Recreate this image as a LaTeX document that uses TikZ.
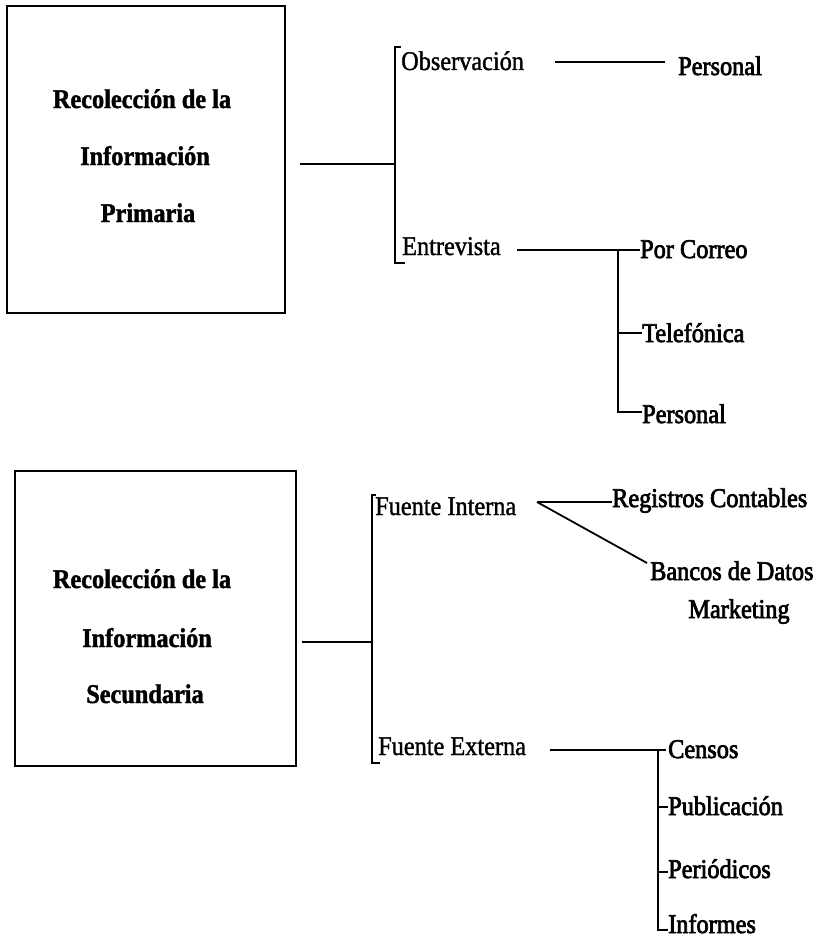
\documentclass[tikz,border=0pt]{standalone}
\usepackage{fontspec}
\setmainfont{Liberation Serif}[FakeStretch=0.9]
\newfontfamily\lightfont{Liberation Serif}[FakeStretch=0.9,FakeBold=1.3]
\newfontfamily\darkfont{Liberation Serif}[FakeStretch=0.9,FakeBold=2.6]
\newfontfamily\titlefont{Liberation Serif}[FakeStretch=0.9,BoldFeatures={FakeBold=1.5}]
\begin{document}
\begin{tikzpicture}[x=1pt,y=-1pt,
  lbl/.style={anchor=base west, inner sep=0pt, font=\lightfont\fontsize{27}{32}\selectfont},
  dlbl/.style={anchor=base west, inner sep=0pt, font=\darkfont\fontsize{27}{32}\selectfont},
  ttl/.style={anchor=base, inner sep=0pt, font=\titlefont\bfseries\fontsize{27}{32}\selectfont},
  frame/.style={draw, line width=1.3pt, inner sep=0pt},
  conn/.style={line width=1.8pt}]
\useasboundingbox (0,0) rectangle (826,942);

% ---------- Primary ----------
\node[frame, minimum width=278pt, minimum height=307pt] (box1) at (146,159.5) {};
\node[ttl] (t1a) at (142,108) {Recolección de la};
\node[ttl] (t1b) at (145,165) {Información};
\node[ttl] (t1c) at (148,222) {Primaria};

\node[lbl]  (obs)  at (401,70)  {Observación};
\node[dlbl] (per1) at (678,75)  {Personal};
\node[lbl]  (ent)  at (402,255) {Entrevista};
\node[dlbl] (pc)   at (640,258) {Por Correo};
\node[dlbl] (tel)  at (642,342) {Telefónica};
\node[dlbl] (per2) at (642,423) {Personal};

\coordinate (s1)  at (300,164);
\coordinate (b1m) at (395,164);
\coordinate (b1t) at (395,47);
\coordinate (b1b) at (395,263);
\coordinate (oL)  at (555,62);
\coordinate (oR)  at (665,62);
\coordinate (eL)  at (517,250);
\coordinate (j2)  at (618,250);
\coordinate (j2t) at (618,333);
\coordinate (j2b) at (618,412);

\draw[conn] (s1) -- (b1m);
\draw[conn] (obs.west |- b1t) -- (b1t) -- (b1b) -- ([xshift=3pt]ent.west |- b1b);
\draw[conn] (oL) -- (oR);
\draw[conn] (eL) -- (j2) -- (pc.west |- j2);
\draw[conn] (j2) -- (j2b) -- (per2.west |- j2b);
\draw[conn] (j2t) -- (tel.west |- j2t);

% ---------- Secondary ----------
\node[frame, minimum width=281pt, minimum height=295pt] (box2) at (155.5,618.5) {};
\node[ttl] (t2a) at (142,588) {Recolección de la};
\node[ttl] (t2b) at (147,647) {Información};
\node[ttl] (t2c) at (145,703) {Secundaria};

\node[lbl]  (fi) at (375,515) {Fuente Interna};
\node[dlbl] (rc) at (612,507) {Registros Contables};
\node[dlbl] (bd) at (650,580) {Bancos de Datos};
\node[dlbl, anchor=base] (mk) at (739,618) {Marketing};
\node[lbl]  (fe) at (378,755) {Fuente Externa};
\node[dlbl] (ce) at (668,758) {Censos};
\node[dlbl] (pu) at (668,815) {Publicación};
\node[dlbl] (pe) at (668,878) {Periódicos};
\node[dlbl] (in) at (668,933) {Informes};

\coordinate (s2)  at (302,642);
\coordinate (b2m) at (372,642);
\coordinate (b2t) at (372,495);
\coordinate (b2b) at (372,763);
\coordinate (ap)  at (537,502);
\coordinate (xL)  at (550,750);
\coordinate (j3)  at (658,750);
\coordinate (j3a) at (658,807);
\coordinate (j3b) at (658,872);
\coordinate (j3c) at (658,930);

\draw[conn] (s2) -- (b2m);
\draw[conn] ([xshift=4pt]b2t) -- (b2t) -- (b2b) -- ([xshift=8pt]b2b);
\draw[conn] (ap) -- (rc.west |- ap);
\draw[conn] (ap) -- ([shift={(-3,-17)}]bd.base west);
\draw[conn] (xL) -- (j3) -- ([xshift=-2pt]ce.west |- j3);
\draw[conn] (j3) -- (j3c) -- (in.west |- j3c);
\draw[conn] (j3a) -- (pu.west |- j3a);
\draw[conn] (j3b) -- (pe.west |- j3b);
\end{tikzpicture}
\end{document}
